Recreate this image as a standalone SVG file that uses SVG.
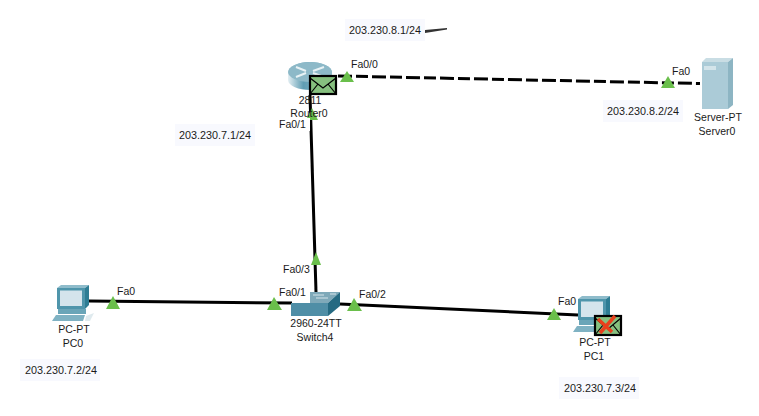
<svg xmlns="http://www.w3.org/2000/svg" width="759" height="416" viewBox="0 0 759 416">
<style>
text{font-family:"Liberation Sans",Arial,sans-serif;font-size:10.500px;fill:#1a1a1a}
.m{text-anchor:middle}
.ip{fill:#f8f9fe}
.a{font-size:10.800px}
.l{fill:none;stroke:#000;stroke-width:3}
.tri{fill:#6abf4b}
.env{fill:#86c07f;stroke:#000;stroke-width:2.200}
.fl{fill:none;stroke:#000;stroke-width:1.200}
</style>
<defs>
<linearGradient id="rg" x1="0" x2="1" y1="0" y2="0"><stop offset="0" stop-color="#e4eff3"/><stop offset=".35" stop-color="#5f9db3"/><stop offset="1" stop-color="#9cc3d1"/></linearGradient>
<g id="pc">
<path d="M4 3L8 0H36L32 3Z" fill="#8fbccb"/>
<path d="M4 3H32V24H4Z" fill="#4f95ab"/>
<path d="M32 3L36 0V20L32 24Z" fill="#2e7d94"/>
<path d="M7 5.500H29V21H7Z" fill="#d4e4ec"/>
<path d="M5 24H33V29H5Z" fill="#6aa5b8"/>
<path d="M3 30H32L30 36H-1Z" fill="#7fb2c3"/>
<path d="M33 31L41 28 37 36H32Z" fill="#dfeaee"/>
</g>
</defs>
<g id="connectors">
<path class="l" d="M338 76L700 83.500" stroke-dasharray="14 4 12 4"/>
<path class="l" d="M310 95L316 292"/>
<path class="l" d="M89 301L292 303"/>
<path class="l" d="M340 304L578 315"/>
<path d="M425 30L447 28L447 29.500L425 33Z" fill="#333"/>
</g>
<g id="labels">
<rect class="ip" x="345" y="19" width="80" height="22"/>
<text class="a" x="349" y="34">203.230.8.1/24</text>
<rect class="ip" x="175" y="124" width="80" height="22"/>
<text class="a" x="179" y="139">203.230.7.1/24</text>
<rect class="ip" x="603" y="100" width="80" height="22"/>
<text class="a" x="607" y="115">203.230.8.2/24</text>
<rect class="ip" x="20" y="359" width="80" height="22"/>
<text class="a" x="25" y="374">203.230.7.2/24</text>
<rect class="ip" x="559" y="377" width="80" height="22"/>
<text class="a" x="564" y="392">203.230.7.3/24</text>
</g>
<g id="Router0">
<path d="M288 73C288 66 299 62 310 62C321 62 332 66 332 73V80C332 86 321 90 310 90C299 90 288 86 288 80Z" fill="url(#rg)"/>
<ellipse cx="310" cy="72" rx="22" ry="10" fill="#8db9c8"/>
<path d="M296 67L306 71M324 67L313 71M296 77L306 73M324 77L313 73" stroke="#e8f2f5" stroke-width="2"/>
<path class="tri" d="M312 108L318 120H306Z"/>
<text class="m" x="310" y="104">2811</text>
<text class="m" x="309" y="117">Router0</text>
<rect x="280" y="118" width="30" height="13" fill="#fff"/>
<text x="279" y="128">Fa0/1</text>
<rect class="env" x="310" y="76" width="26" height="18"/>
<path class="fl" d="M310 78L323 88L336 78M310 94L318 84M336 94L328 84"/>
<path class="tri" d="M347 71L354 82H340Z"/>
<text x="351" y="68">Fa0/0</text>
</g>
<g id="Server0">
<path d="M702 62L706 58H733L728 62Z" fill="#c9dde4"/>
<path d="M728 62L733 58V105L728 109Z" fill="#8db5c3"/>
<path d="M702 62H728V109H702Z" fill="#abcbd7"/>
<rect x="704" y="66" width="12" height="4" fill="#d3e4ea"/>
<path class="tri" d="M668 76L675 88H661Z"/>
<text x="672" y="75">Fa0</text>
<text class="m" x="718" y="121">Server-PT</text>
<text class="m" x="717" y="135">Server0</text>
</g>
<g id="Switch4">
<path d="M310 292H340L328 303H310Z" fill="#7fa9b9"/>
<path d="M291 303H328V316H291Z" fill="#4f8ea6"/>
<path d="M328 303L340 292V306L328 316Z" fill="#256a82"/>
<path d="M313 295H324M330 294H336M316 298H328" stroke="#d5e4ea" stroke-width="1"/>
<path class="tri" d="M316 252L321 265H311Z"/>
<rect x="278" y="287" width="32" height="12" fill="#fff"/>
<path class="tri" d="M274 297L282 310H267Z"/>
<path class="tri" d="M354 298L362 311H347Z"/>
<text x="283" y="273">Fa0/3</text>
<text x="279" y="296">Fa0/1</text>
<text x="359" y="298">Fa0/2</text>
<text class="m" x="316" y="327">2960-24TT</text>
<text class="m" x="315" y="341">Switch4</text>
</g>
<g id="PC0">
<use href="#pc" x="53" y="285"/>
<path class="tri" d="M113 296L120 309H106Z"/>
<text x="117" y="295">Fa0</text>
<text class="m" x="74" y="333">PC-PT</text>
<text class="m" x="73" y="347">PC0</text>
</g>
<g id="PC1">
<use href="#pc" x="574" y="296"/>
<path class="tri" d="M554 308L561 320H547Z"/>
<text x="558" y="305">Fa0</text>
<text class="m" x="595" y="346">PC-PT</text>
<text class="m" x="594" y="360">PC1</text>
<rect class="env" x="595" y="316" width="26" height="19"/>
<path class="fl" d="M595 318L608 329L621 318M595 335L603 325M621 335L613 325"/>
<path d="M598 319L612 332M615 316L600 333" stroke="#e8401c" stroke-width="3.500" fill="none"/>
</g>
</svg>
